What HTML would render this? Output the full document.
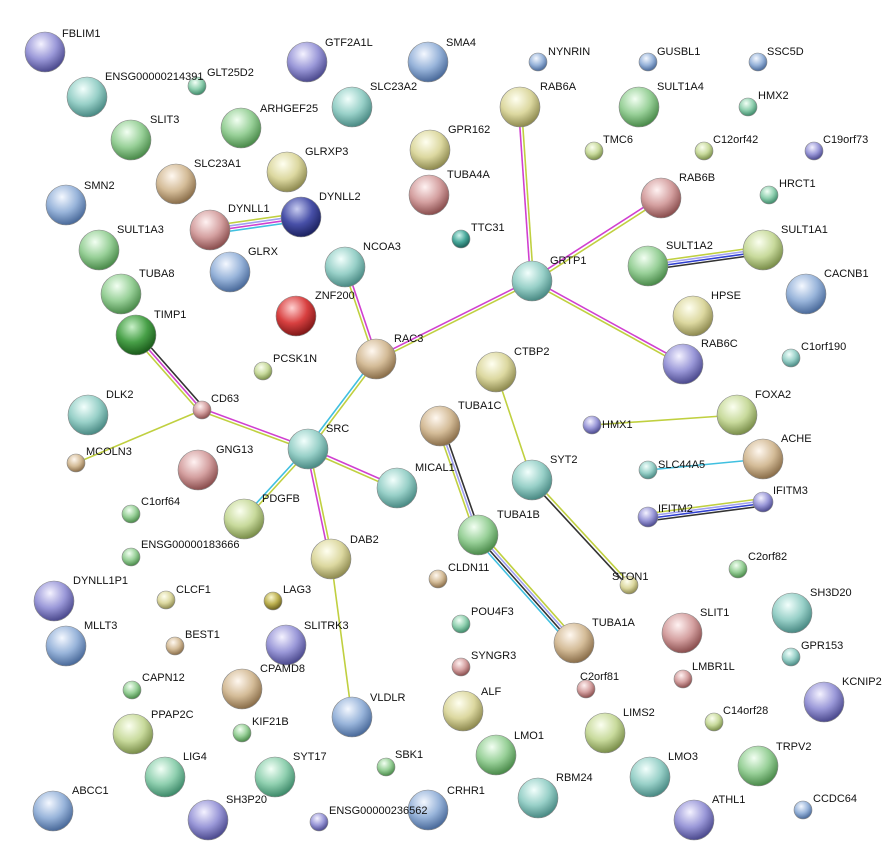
<!DOCTYPE html>
<html><head><meta charset="utf-8"><style>
html,body{margin:0;padding:0;background:#fff;}
svg{display:block;}
text{font-family:"Liberation Sans",sans-serif;font-size:11px;fill:#111;}
</style></head><body>
<svg width="895" height="867" viewBox="0 0 895 867" xmlns="http://www.w3.org/2000/svg">
<defs>
<radialGradient id="bl" cx="40%" cy="30%" r="70%"><stop offset="0" stop-color="#f4f8ff"/><stop offset=".55" stop-color="#98b4da"/><stop offset="1" stop-color="#4a6a9a"/></radialGradient>
<radialGradient id="db" cx="40%" cy="30%" r="70%"><stop offset="0" stop-color="#c8ccf0"/><stop offset=".55" stop-color="#4850a8"/><stop offset="1" stop-color="#1c2260"/></radialGradient>
<radialGradient id="gr" cx="40%" cy="30%" r="70%"><stop offset="0" stop-color="#f2fff2"/><stop offset=".55" stop-color="#98d098"/><stop offset="1" stop-color="#4a8a4a"/></radialGradient>
<radialGradient id="dg" cx="40%" cy="30%" r="70%"><stop offset="0" stop-color="#c8f0c8"/><stop offset=".55" stop-color="#48a048"/><stop offset="1" stop-color="#1a5a1a"/></radialGradient>
<radialGradient id="te" cx="40%" cy="30%" r="70%"><stop offset="0" stop-color="#f2fffc"/><stop offset=".55" stop-color="#98d0c8"/><stop offset="1" stop-color="#4a8a84"/></radialGradient>
<radialGradient id="tg" cx="40%" cy="30%" r="70%"><stop offset="0" stop-color="#f2fff6"/><stop offset=".55" stop-color="#90d0b0"/><stop offset="1" stop-color="#3e8a6a"/></radialGradient>
<radialGradient id="ye" cx="40%" cy="30%" r="70%"><stop offset="0" stop-color="#fffff0"/><stop offset=".55" stop-color="#dcd8a0"/><stop offset="1" stop-color="#8e8a50"/></radialGradient>
<radialGradient id="yg" cx="40%" cy="30%" r="70%"><stop offset="0" stop-color="#fbfff0"/><stop offset=".55" stop-color="#c8da9c"/><stop offset="1" stop-color="#7a8e4a"/></radialGradient>
<radialGradient id="ta" cx="40%" cy="30%" r="70%"><stop offset="0" stop-color="#fff8f0"/><stop offset=".55" stop-color="#d4bc98"/><stop offset="1" stop-color="#8a6e4a"/></radialGradient>
<radialGradient id="pk" cx="40%" cy="30%" r="70%"><stop offset="0" stop-color="#fff2f2"/><stop offset=".55" stop-color="#d4a0a0"/><stop offset="1" stop-color="#8a4e4e"/></radialGradient>
<radialGradient id="rd" cx="40%" cy="30%" r="70%"><stop offset="0" stop-color="#ffd0d0"/><stop offset=".55" stop-color="#d84040"/><stop offset="1" stop-color="#801818"/></radialGradient>
<radialGradient id="pu" cx="40%" cy="30%" r="70%"><stop offset="0" stop-color="#f4f2ff"/><stop offset=".55" stop-color="#9a98d8"/><stop offset="1" stop-color="#4c4a8e"/></radialGradient>
<radialGradient id="ol" cx="40%" cy="30%" r="70%"><stop offset="0" stop-color="#fbf8d0"/><stop offset=".55" stop-color="#bcb050"/><stop offset="1" stop-color="#6a6020"/></radialGradient>
<radialGradient id="dt" cx="40%" cy="30%" r="70%"><stop offset="0" stop-color="#d0f4ee"/><stop offset=".55" stop-color="#48a89a"/><stop offset="1" stop-color="#1c6058"/></radialGradient>
</defs>

<g fill="none" stroke-width="1.6">
<!-- RAB6A-GRTP1 -->
<line x1="518.5" y1="107" x2="530.5" y2="281" stroke="#d040d0"/>
<line x1="521.5" y1="107" x2="533.5" y2="281" stroke="#c0d040"/>
<!-- GRTP1-RAB6B -->
<line x1="531" y1="279.7" x2="660" y2="196.7" stroke="#d040d0"/>
<line x1="533" y1="282.3" x2="662" y2="199.3" stroke="#c0d040"/>
<!-- GRTP1-RAB6C -->
<line x1="532.7" y1="279.7" x2="683.7" y2="362.7" stroke="#d040d0"/>
<line x1="531.3" y1="282.3" x2="682.3" y2="365.3" stroke="#c0d040"/>
<!-- GRTP1-RAC3 -->
<line x1="531.3" y1="279.7" x2="375.3" y2="357.7" stroke="#d040d0"/>
<line x1="532.7" y1="282.3" x2="376.7" y2="360.3" stroke="#c0d040"/>
<!-- RAC3-NCOA3 -->
<line x1="377.4" y1="358.5" x2="346.4" y2="266.5" stroke="#d040d0"/>
<line x1="374.6" y1="359.5" x2="343.6" y2="267.5" stroke="#c0d040"/>
<!-- RAC3-SRC -->
<line x1="377.2" y1="359.9" x2="309.2" y2="449.9" stroke="#c0d040"/>
<line x1="374.8" y1="358.1" x2="306.8" y2="448.1" stroke="#40c0e0"/>
<!-- SRC-CD63 -->
<line x1="308.5" y1="447.6" x2="202.5" y2="408.6" stroke="#d040d0"/>
<line x1="307.5" y1="450.4" x2="201.5" y2="411.4" stroke="#c0d040"/>
<!-- SRC-MICAL1 -->
<line x1="307.4" y1="450.4" x2="396.4" y2="489.4" stroke="#c0d040"/>
<line x1="308.6" y1="447.6" x2="397.6" y2="486.6" stroke="#d040d0"/>
<!-- SRC-PDGFB -->
<line x1="309.1" y1="450" x2="245.1" y2="520" stroke="#c0d040"/>
<line x1="306.9" y1="448" x2="242.9" y2="518" stroke="#40c0e0"/>
<!-- SRC-DAB2 -->
<line x1="306.5" y1="449" x2="329.5" y2="559" stroke="#d040d0"/>
<line x1="309.5" y1="449" x2="332.5" y2="559" stroke="#c0d040"/>
<!-- CD63-TIMP1 -->
<line x1="204.2" y1="408" x2="138.2" y2="333" stroke="#333"/>
<line x1="202" y1="410" x2="136" y2="335" stroke="#d040d0"/>
<line x1="199.8" y1="412" x2="133.8" y2="337" stroke="#c0d040"/>
<!-- CD63-MCOLN3 -->
<line x1="202" y1="410" x2="76" y2="463" stroke="#c0d040"/>
<!-- DYNLL1-DYNLL2 -->
<line x1="210" y1="226" x2="301" y2="213" stroke="#c0d040"/>
<line x1="210" y1="228.7" x2="301" y2="215.7" stroke="#a0a0f0"/>
<line x1="210" y1="231.3" x2="301" y2="218.3" stroke="#d040d0"/>
<line x1="210" y1="234" x2="301" y2="221" stroke="#40c0e0"/>
<!-- SULT1A2-SULT1A1 -->
<line x1="648" y1="262.5" x2="763" y2="246.5" stroke="#c0d040"/>
<line x1="648" y1="265" x2="763" y2="249" stroke="#a0a0f0"/>
<line x1="648" y1="267.5" x2="763" y2="251.5" stroke="#3040d0"/>
<line x1="648" y1="270" x2="763" y2="254" stroke="#333"/>
<!-- CTBP2-SYT2 -->
<line x1="496" y1="372" x2="532" y2="480" stroke="#c0d040"/>
<!-- SYT2-STON1 -->
<line x1="531" y1="481.2" x2="628" y2="586.2" stroke="#333"/>
<line x1="533" y1="478.8" x2="630" y2="583.8" stroke="#c0d040"/>
<!-- TUBA1C-TUBA1B -->
<line x1="437.5" y1="427" x2="475.5" y2="536" stroke="#c0d040"/>
<line x1="440" y1="426" x2="478" y2="535" stroke="#a0a0f0"/>
<line x1="442.5" y1="425" x2="480.5" y2="534" stroke="#333"/>
<!-- TUBA1B-TUBA1A -->
<line x1="481" y1="532.5" x2="577" y2="640.5" stroke="#c0d040"/>
<line x1="479" y1="534.3" x2="575" y2="642.3" stroke="#a0a0f0"/>
<line x1="477" y1="536.1" x2="573" y2="644.1" stroke="#333"/>
<line x1="475" y1="537.9" x2="571" y2="645.9" stroke="#40c0e0"/>
<!-- DAB2-VLDLR -->
<line x1="331" y1="559" x2="352" y2="717" stroke="#c0d040"/>
<!-- HMX1-FOXA2 -->
<line x1="592" y1="425" x2="737" y2="415" stroke="#c0d040"/>
<!-- SLC44A5-ACHE -->
<line x1="648" y1="470" x2="763" y2="459" stroke="#40c0e0"/>
<!-- IFITM2-IFITM3 -->
<line x1="648" y1="513.5" x2="763" y2="498.5" stroke="#c0d040"/>
<line x1="648" y1="516" x2="763" y2="501" stroke="#a0a0f0"/>
<line x1="648" y1="518.5" x2="763" y2="503.5" stroke="#3040d0"/>
<line x1="648" y1="521" x2="763" y2="506" stroke="#333"/>
</g>

<g stroke="#888" stroke-width="0.6">
<!-- large nodes -->
<circle cx="45" cy="52" r="20" fill="url(#pu)"/>
<circle cx="87" cy="97" r="20" fill="url(#te)"/>
<circle cx="131" cy="140" r="20" fill="url(#gr)"/>
<circle cx="307" cy="62" r="20" fill="url(#pu)"/>
<circle cx="428" cy="62" r="20" fill="url(#bl)"/>
<circle cx="352" cy="107" r="20" fill="url(#te)"/>
<circle cx="241" cy="128" r="20" fill="url(#gr)"/>
<circle cx="430" cy="150" r="20" fill="url(#ye)"/>
<circle cx="429" cy="195" r="20" fill="url(#pk)"/>
<circle cx="520" cy="107" r="20" fill="url(#ye)"/>
<circle cx="639" cy="107" r="20" fill="url(#gr)"/>
<circle cx="176" cy="184" r="20" fill="url(#ta)"/>
<circle cx="287" cy="172" r="20" fill="url(#ye)"/>
<circle cx="66" cy="205" r="20" fill="url(#bl)"/>
<circle cx="210" cy="230" r="20" fill="url(#pk)"/>
<circle cx="301" cy="217" r="20" fill="url(#db)"/>
<circle cx="661" cy="198" r="20" fill="url(#pk)"/>
<circle cx="99" cy="250" r="20" fill="url(#gr)"/>
<circle cx="230" cy="272" r="20" fill="url(#bl)"/>
<circle cx="345" cy="267" r="20" fill="url(#te)"/>
<circle cx="532" cy="281" r="20" fill="url(#te)"/>
<circle cx="648" cy="266" r="20" fill="url(#gr)"/>
<circle cx="763" cy="250" r="20" fill="url(#yg)"/>
<circle cx="121" cy="294" r="20" fill="url(#gr)"/>
<circle cx="806" cy="294" r="20" fill="url(#bl)"/>
<circle cx="296" cy="316" r="20" fill="url(#rd)"/>
<circle cx="693" cy="316" r="20" fill="url(#ye)"/>
<circle cx="136" cy="335" r="20" fill="url(#dg)"/>
<circle cx="376" cy="359" r="20" fill="url(#ta)"/>
<circle cx="683" cy="364" r="20" fill="url(#pu)"/>
<circle cx="496" cy="372" r="20" fill="url(#ye)"/>
<circle cx="737" cy="415" r="20" fill="url(#yg)"/>
<circle cx="88" cy="415" r="20" fill="url(#te)"/>
<circle cx="440" cy="426" r="20" fill="url(#ta)"/>
<circle cx="308" cy="449" r="20" fill="url(#te)"/>
<circle cx="198" cy="470" r="20" fill="url(#pk)"/>
<circle cx="763" cy="459" r="20" fill="url(#ta)"/>
<circle cx="532" cy="480" r="20" fill="url(#te)"/>
<circle cx="397" cy="488" r="20" fill="url(#te)"/>
<circle cx="244" cy="519" r="20" fill="url(#yg)"/>
<circle cx="478" cy="535" r="20" fill="url(#gr)"/>
<circle cx="331" cy="559" r="20" fill="url(#ye)"/>
<circle cx="54" cy="601" r="20" fill="url(#pu)"/>
<circle cx="792" cy="613" r="20" fill="url(#te)"/>
<circle cx="66" cy="646" r="20" fill="url(#bl)"/>
<circle cx="286" cy="645" r="20" fill="url(#pu)"/>
<circle cx="682" cy="633" r="20" fill="url(#pk)"/>
<circle cx="574" cy="643" r="20" fill="url(#ta)"/>
<circle cx="824" cy="702" r="20" fill="url(#pu)"/>
<circle cx="242" cy="689" r="20" fill="url(#ta)"/>
<circle cx="463" cy="711" r="20" fill="url(#ye)"/>
<circle cx="605" cy="733" r="20" fill="url(#yg)"/>
<circle cx="352" cy="717" r="20" fill="url(#bl)"/>
<circle cx="133" cy="734" r="20" fill="url(#yg)"/>
<circle cx="496" cy="755" r="20" fill="url(#gr)"/>
<circle cx="758" cy="766" r="20" fill="url(#gr)"/>
<circle cx="165" cy="777" r="20" fill="url(#tg)"/>
<circle cx="275" cy="777" r="20" fill="url(#tg)"/>
<circle cx="650" cy="777" r="20" fill="url(#te)"/>
<circle cx="538" cy="798" r="20" fill="url(#te)"/>
<circle cx="53" cy="811" r="20" fill="url(#bl)"/>
<circle cx="208" cy="820" r="20" fill="url(#pu)"/>
<circle cx="428" cy="810" r="20" fill="url(#bl)"/>
<circle cx="694" cy="820" r="20" fill="url(#pu)"/>
<!-- small nodes -->
<circle cx="197" cy="86" r="9" fill="url(#tg)"/>
<circle cx="538" cy="62" r="9" fill="url(#bl)"/>
<circle cx="648" cy="62" r="9" fill="url(#bl)"/>
<circle cx="758" cy="62" r="9" fill="url(#bl)"/>
<circle cx="748" cy="107" r="9" fill="url(#tg)"/>
<circle cx="594" cy="151" r="9" fill="url(#yg)"/>
<circle cx="704" cy="151" r="9" fill="url(#yg)"/>
<circle cx="814" cy="151" r="9" fill="url(#pu)"/>
<circle cx="769" cy="195" r="9" fill="url(#tg)"/>
<circle cx="461" cy="239" r="9" fill="url(#dt)"/>
<circle cx="263" cy="371" r="9" fill="url(#yg)"/>
<circle cx="791" cy="358" r="9" fill="url(#te)"/>
<circle cx="202" cy="410" r="9" fill="url(#pk)"/>
<circle cx="76" cy="463" r="9" fill="url(#ta)"/>
<circle cx="592" cy="425" r="9" fill="url(#pu)"/>
<circle cx="648" cy="470" r="9" fill="url(#te)"/>
<circle cx="648" cy="517" r="10" fill="url(#pu)"/>
<circle cx="763" cy="502" r="10" fill="url(#pu)"/>
<circle cx="131" cy="514" r="9" fill="url(#gr)"/>
<circle cx="131" cy="557" r="9" fill="url(#gr)"/>
<circle cx="738" cy="569" r="9" fill="url(#gr)"/>
<circle cx="438" cy="579" r="9" fill="url(#ta)"/>
<circle cx="629" cy="585" r="9" fill="url(#ye)"/>
<circle cx="166" cy="600" r="9" fill="url(#ye)"/>
<circle cx="273" cy="601" r="9" fill="url(#ol)"/>
<circle cx="461" cy="624" r="9" fill="url(#tg)"/>
<circle cx="175" cy="646" r="9" fill="url(#ta)"/>
<circle cx="791" cy="657" r="9" fill="url(#te)"/>
<circle cx="461" cy="667" r="9" fill="url(#pk)"/>
<circle cx="586" cy="689" r="9" fill="url(#pk)"/>
<circle cx="683" cy="679" r="9" fill="url(#pk)"/>
<circle cx="132" cy="690" r="9" fill="url(#gr)"/>
<circle cx="714" cy="722" r="9" fill="url(#yg)"/>
<circle cx="242" cy="733" r="9" fill="url(#gr)"/>
<circle cx="386" cy="767" r="9" fill="url(#gr)"/>
<circle cx="803" cy="810" r="9" fill="url(#bl)"/>
<circle cx="319" cy="822" r="9" fill="url(#pu)"/>
</g>

<g>
<text x="62" y="37">FBLIM1</text>
<text x="105" y="80">ENSG00000214391</text>
<text x="207" y="76">GLT25D2</text>
<text x="150" y="123">SLIT3</text>
<text x="325" y="46">GTF2A1L</text>
<text x="446" y="46">SMA4</text>
<text x="370" y="90">SLC23A2</text>
<text x="260" y="112">ARHGEF25</text>
<text x="448" y="133">GPR162</text>
<text x="447" y="178">TUBA4A</text>
<text x="540" y="90">RAB6A</text>
<text x="657" y="90">SULT1A4</text>
<text x="548" y="55">NYNRIN</text>
<text x="657" y="55">GUSBL1</text>
<text x="767" y="55">SSC5D</text>
<text x="758" y="99">HMX2</text>
<text x="603" y="143">TMC6</text>
<text x="713" y="143">C12orf42</text>
<text x="823" y="143">C19orf73</text>
<text x="779" y="187">HRCT1</text>
<text x="194" y="167">SLC23A1</text>
<text x="305" y="155">GLRXP3</text>
<text x="84" y="189">SMN2</text>
<text x="228" y="212">DYNLL1</text>
<text x="319" y="200">DYNLL2</text>
<text x="679" y="181">RAB6B</text>
<text x="117" y="233">SULT1A3</text>
<text x="248" y="255">GLRX</text>
<text x="363" y="250">NCOA3</text>
<text x="471" y="231">TTC31</text>
<text x="550" y="264">GRTP1</text>
<text x="666" y="249">SULT1A2</text>
<text x="781" y="233">SULT1A1</text>
<text x="139" y="277">TUBA8</text>
<text x="824" y="277">CACNB1</text>
<text x="315" y="299">ZNF200</text>
<text x="711" y="299">HPSE</text>
<text x="154" y="318">TIMP1</text>
<text x="394" y="342">RAC3</text>
<text x="273" y="362">PCSK1N</text>
<text x="701" y="347">RAB6C</text>
<text x="801" y="350">C1orf190</text>
<text x="514" y="355">CTBP2</text>
<text x="755" y="398">FOXA2</text>
<text x="106" y="398">DLK2</text>
<text x="211" y="402">CD63</text>
<text x="458" y="409">TUBA1C</text>
<text x="602" y="428">HMX1</text>
<text x="326" y="432">SRC</text>
<text x="86" y="455">MCOLN3</text>
<text x="216" y="453">GNG13</text>
<text x="781" y="442">ACHE</text>
<text x="550" y="463">SYT2</text>
<text x="415" y="471">MICAL1</text>
<text x="658" y="468">SLC44A5</text>
<text x="658" y="512">IFITM2</text>
<text x="773" y="494">IFITM3</text>
<text x="141" y="505">C1orf64</text>
<text x="262" y="502">PDGFB</text>
<text x="497" y="518">TUBA1B</text>
<text x="350" y="543">DAB2</text>
<text x="141" y="548">ENSG00000183666</text>
<text x="748" y="560">C2orf82</text>
<text x="448" y="571">CLDN11</text>
<text x="612" y="580">STON1</text>
<text x="73" y="584">DYNLL1P1</text>
<text x="176" y="593">CLCF1</text>
<text x="283" y="593">LAG3</text>
<text x="810" y="596">SH3D20</text>
<text x="471" y="615">POU4F3</text>
<text x="700" y="616">SLIT1</text>
<text x="592" y="626">TUBA1A</text>
<text x="84" y="629">MLLT3</text>
<text x="185" y="638">BEST1</text>
<text x="304" y="629">SLITRK3</text>
<text x="801" y="649">GPR153</text>
<text x="471" y="659">SYNGR3</text>
<text x="580" y="680">C2orf81</text>
<text x="692" y="670">LMBR1L</text>
<text x="142" y="681">CAPN12</text>
<text x="260" y="672">CPAMD8</text>
<text x="842" y="685">KCNIP2</text>
<text x="481" y="695">ALF</text>
<text x="370" y="701">VLDLR</text>
<text x="723" y="714">C14orf28</text>
<text x="623" y="716">LIMS2</text>
<text x="151" y="718">PPAP2C</text>
<text x="252" y="725">KIF21B</text>
<text x="514" y="739">LMO1</text>
<text x="776" y="750">TRPV2</text>
<text x="183" y="760">LIG4</text>
<text x="293" y="760">SYT17</text>
<text x="668" y="760">LMO3</text>
<text x="395" y="758">SBK1</text>
<text x="556" y="781">RBM24</text>
<text x="72" y="794">ABCC1</text>
<text x="447" y="794">CRHR1</text>
<text x="226" y="803">SH3P20</text>
<text x="712" y="803">ATHL1</text>
<text x="813" y="802">CCDC64</text>
<text x="329" y="814">ENSG00000236562</text>
</g>
</svg>
</body></html>
